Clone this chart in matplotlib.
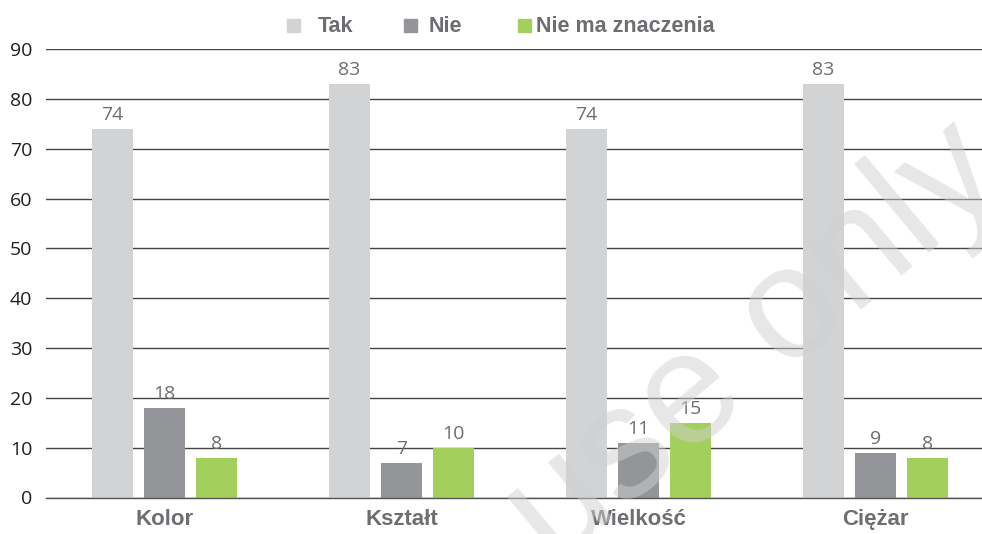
import matplotlib
matplotlib.use("Agg")
import matplotlib.pyplot as plt
from matplotlib.patches import Rectangle
import numpy as np

categories = ["Kolor", "Kształt", "Wielkość", "Ciężar"]
series_names = ["Tak", "Nie", "Nie ma znaczenia"]
tak = [74, 83, 74, 83]
nie = [18, 7, 11, 9]
nie_ma = [8, 10, 15, 8]
yticks = [0, 10, 20, 30, 40, 50, 60, 70, 80, 90]

colors = ["#D1D3D4", "#939598", "#A3CF5D"]
text_gray = "#6D6E71"

W, H = 982, 534
fig = plt.figure(figsize=(W / 100, H / 100), dpi=100)
ax = fig.add_axes([46 / W, 36.5 / H, 948 / W, (497.5 - 49) / H])

x = np.arange(len(categories))
step = 0.2205
width = 0.1729
for i, (vals, c) in enumerate(zip([tak, nie, nie_ma], colors)):
    offs = (i - 1) * step
    bars = ax.bar(x + offs, vals, width=width, color=c, zorder=2)
    for b, v in zip(bars, vals):
        ax.annotate(str(v), (b.get_x() + b.get_width() / 2, v),
                    xytext=(0, 3.5), textcoords="offset points",
                    ha="center", va="bottom", fontsize=14,
                    family="Open Sans", color=text_gray, zorder=3)

ax.set_xlim(-0.5, len(categories) - 0.5)
ax.set_ylim(0, 90)
ax.set_yticks(yticks)
ax.set_yticklabels([str(t) for t in yticks], family="Open Sans", fontsize=14, color="#231F20")
ax.set_xticks(x)
ax.set_xticklabels(categories, family="Liberation Sans", fontweight="bold",
                   fontsize=16, color=text_gray)
ax.tick_params(axis="y", length=0, pad=10)
ax.tick_params(axis="x", length=0, pad=8)
for s in ["top", "right", "left"]:
    ax.spines[s].set_visible(False)
ax.spines["bottom"].set_color("#555555")
ax.spines["bottom"].set_linewidth(1.0)
ax.yaxis.grid(True, color="#444444", linewidth=1.0, zorder=1)
ax.set_axisbelow(True)

# legend (manual, top)
marker_x = [287, 404, 518]
text_x = [318, 429, 536]
for mx, tx, name, c in zip(marker_x, text_x, series_names, colors):
    fig.patches.append(Rectangle((mx / W, 1 - 31.5 / H), 13 / W, 13 / H,
                                 transform=fig.transFigure, color=c))
    fig.text(tx / W, 1 - 31.7 / H, name, family="Liberation Sans",
             fontweight="bold", fontsize=15.5, color=text_gray,
             ha="left", va="baseline")

# watermark
fig.text(755 / W, 1 - 345 / H, "use only", family="Liberation Sans",
         fontsize=115, color="#D0D0D0", alpha=0.5, rotation=40,
         rotation_mode="anchor", ha="center", va="center", zorder=10)

fig.savefig("out.png", dpi=100)
